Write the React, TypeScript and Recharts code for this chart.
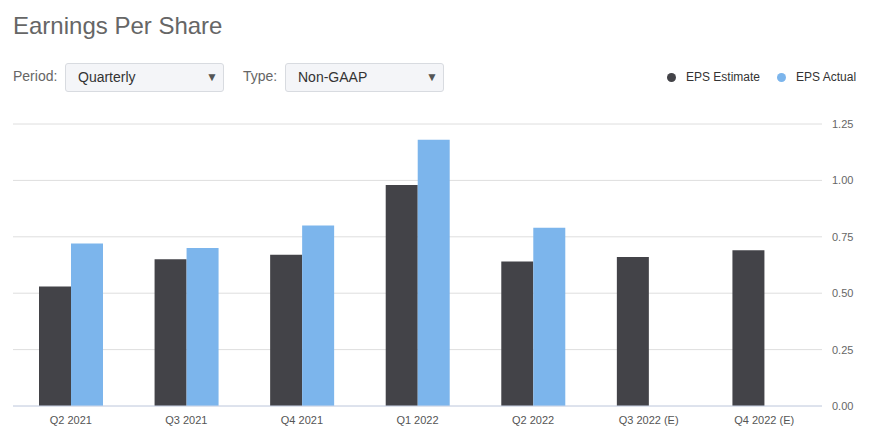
import React from 'react';
import { BarChart, Bar, XAxis, YAxis, CartesianGrid } from 'recharts';

const quarters = ['Q2 2021', 'Q3 2021', 'Q4 2021', 'Q1 2022', 'Q2 2022', 'Q3 2022 (E)', 'Q4 2022 (E)'];
const epsEstimate = [0.53, 0.65, 0.67, 0.98, 0.64, 0.66, 0.69];
const epsActual: (number | null)[] = [0.72, 0.7, 0.8, 1.18, 0.79, null, null];
const yTicks = [0, 0.25, 0.5, 0.75, 1, 1.25];

const seriesNames = ['EPS Estimate', 'EPS Actual'];
const COLORS = ['#434348', '#7cb5ec'];

const data = quarters.map((q, i) => ({
  quarter: q,
  estimate: epsEstimate[i],
  actual: epsActual[i],
}));

const FONT = '"Liberation Sans", Arial, Helvetica, sans-serif';

const Dropdown: React.FC<{ left: number; value: string }> = ({ left, value }) => (
  <div
    style={{
      position: 'absolute',
      left,
      top: 63,
      width: 159,
      height: 29,
      boxSizing: 'border-box',
      background: '#f4f5f8',
      border: '1px solid #d8dbe0',
      borderRadius: 3,
      fontSize: 14,
      color: '#333',
      lineHeight: '27px',
      paddingLeft: 12,
    }}
  >
    {value}
    <span style={{ position: 'absolute', right: 5, top: 0, fontSize: 12, color: '#555' }}>▼</span>
  </div>
);

const App: React.FC = () => {
  return (
    <div
      style={{
        position: 'absolute',
        left: 0,
        top: 0,
        width: 870,
        height: 437,
        background: '#fff',
        fontFamily: FONT,
        overflow: 'hidden',
      }}
    >
      <div style={{ position: 'absolute', left: 13, top: 12, fontSize: 24, color: '#666' }}>
        Earnings Per Share
      </div>

      <div style={{ position: 'absolute', left: 13, top: 68, fontSize: 14, color: '#666' }}>Period:</div>
      <Dropdown left={65} value="Quarterly" />
      <div style={{ position: 'absolute', left: 243, top: 68, fontSize: 14, color: '#666' }}>Type:</div>
      <Dropdown left={285} value="Non-GAAP" />

      <div style={{ position: 'absolute', left: 667, top: 70, display: 'flex', alignItems: 'center', fontSize: 12, color: '#333' }}>
        {seriesNames.map((name, i) => (
          <div key={name} style={{ display: 'flex', alignItems: 'center', marginRight: i === 0 ? 17 : 0 }}>
            <span
              style={{
                display: 'inline-block',
                width: 9,
                height: 9,
                borderRadius: '50%',
                background: COLORS[i],
                marginRight: 10,
              }}
            />
            {name}
          </div>
        ))}
      </div>

      <div style={{ position: 'absolute', left: 0, top: 0 }}>
        <BarChart
          width={870}
          height={437}
          data={data}
          margin={{ top: 124, right: 0, bottom: 0, left: 13 }}
          barGap={0}
          barSize={32}
        >
          <CartesianGrid vertical={false} stroke="#dedede" strokeWidth={1} />
          <XAxis
            dataKey="quarter"
            height={31}
            axisLine={{ stroke: '#ccd6eb' }}
            tickLine={false}
            tickMargin={4}
            interval={0}
            tick={{ fontSize: 11, fill: '#555', fontFamily: FONT }}
          />
          <YAxis
            orientation="right"
            width={48}
            domain={[0, 1.25]}
            ticks={yTicks}
            axisLine={false}
            tickLine={false}
            tickMargin={4}
            tickFormatter={(v: number) => v.toFixed(2)}
            tick={{ fontSize: 11, fill: '#666', fontFamily: FONT, textAnchor: 'start' }}
          />
          <Bar dataKey="estimate" name={seriesNames[0]} fill={COLORS[0]} isAnimationActive={false} />
          <Bar dataKey="actual" name={seriesNames[1]} fill={COLORS[1]} isAnimationActive={false} />
        </BarChart>
      </div>
    </div>
  );
};

export default App;
